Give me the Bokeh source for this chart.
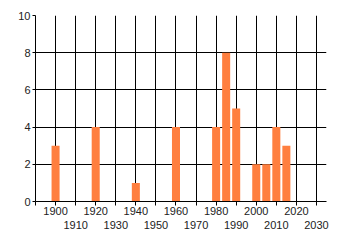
from bokeh.plotting import figure
from bokeh.models import Range1d, LinearAxis, FixedTicker
from bokeh.embed import file_html
from bokeh.resources import INLINE

years = [1900, 1920, 1940, 1960, 1980, 1985, 1990, 2000, 2005, 2010, 2015]
counts = [3, 4, 1, 4, 4, 8, 5, 2, 2, 4, 3]
decades = list(range(1890, 2040, 10))
upper_labels = [1900, 1920, 1940, 1960, 1980, 2000, 2020]
lower_labels = [1910, 1930, 1950, 1970, 1990, 2010, 2030]
y_ticks = [0, 2, 4, 6, 8, 10]

p = figure(width=340, height=245, output_backend="svg", toolbar_location=None,
           x_range=Range1d(1890, 2035), y_range=Range1d(0, 10),
           min_border_left=35, min_border_top=15, min_border_right=14, min_border_bottom=44,
           x_axis_location=None)
p.outline_line_color = None
p.background_fill_color = "white"
p.border_fill_color = "white"

p.vbar(x=years, top=counts, width=4, color="#FF7F3F", line_color=None)

font = "Liberation Sans"
ax1 = LinearAxis(ticker=FixedTicker(ticks=decades))
ax1.major_label_overrides = {d: (str(d) if d in upper_labels else "") for d in decades}
ax1.major_tick_in = 0
ax1.major_tick_out = 4
ax1.minor_tick_out = 0
ax1.minor_tick_in = 0
ax1.major_label_standoff = 1
ax1.axis_line_color = "black"
ax1.major_tick_line_color = "black"
ax1.major_label_text_font = font
ax1.major_label_text_font_size = "11px"
ax1.major_label_text_color = "#222222"
p.add_layout(ax1, "below")

ax2 = LinearAxis(ticker=FixedTicker(ticks=lower_labels))
ax2.axis_line_color = None
ax2.major_tick_line_color = None
ax2.minor_tick_line_color = None
ax2.major_tick_out = 0
ax2.major_tick_in = 0
ax2.major_label_standoff = 3
ax2.major_label_text_font = font
ax2.major_label_text_font_size = "11px"
ax2.major_label_text_color = "#222222"
p.add_layout(ax2, "below")

p.yaxis.ticker = FixedTicker(ticks=y_ticks)
p.yaxis.major_tick_in = 0
p.yaxis.major_tick_out = 3
p.yaxis.minor_tick_out = 0
p.yaxis.minor_tick_in = 0
p.yaxis.axis_line_color = "black"
p.yaxis.major_tick_line_color = "black"
p.yaxis.major_label_standoff = 2
p.yaxis.major_label_text_font = font
p.yaxis.major_label_text_font_size = "11px"
p.yaxis.major_label_text_color = "#222222"

p.xgrid.ticker = FixedTicker(ticks=decades)
p.xgrid.grid_line_color = "black"
p.xgrid.grid_line_width = 1
p.xgrid.level = "underlay"
p.ygrid.ticker = FixedTicker(ticks=y_ticks)
p.ygrid.grid_line_color = "black"
p.ygrid.grid_line_width = 1
p.ygrid.level = "underlay"

open("out.html", "w").write(file_html(p, INLINE))
